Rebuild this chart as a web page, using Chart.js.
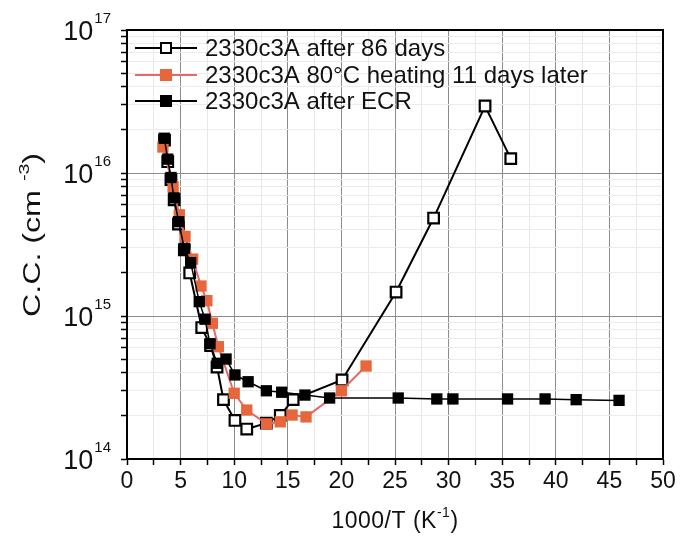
<!DOCTYPE html>
<html>
<head>
<meta charset="utf-8">
<script src="https://cdn.jsdelivr.net/npm/chart.js@4.4.1/dist/chart.umd.min.js"></script>
<style>
  html, body { margin: 0; padding: 0; background: #fff; }
  #wrap { width: 681px; height: 540px; }
</style>
</head>
<body>
<div id="wrap"><canvas id="ccChart" width="681" height="540"></canvas></div>
<script>
// --- C.C. vs 1000/T (log scale) ---
const FONT = '"Liberation Sans", Arial, sans-serif';

// series 1: after 86 days (open squares)
const days86X = [3.5, 3.8, 4.1, 4.4, 4.8, 5.35, 5.85, 6.97, 7.8, 8.4, 9.0, 10.07, 11.17, 13.0, 14.3, 15.5, 20.06, 25.1, 28.6, 33.4, 35.8];
const days86Y = [1.7e16, 1.2e16, 9.0e15, 6.5e15, 4.4e15, 2.9e15, 2.0e15, 8.3e14, 6.2e14, 4.4e14, 2.6e14, 1.86e14, 1.62e14, 1.78e14, 2.02e14, 2.6e14, 3.57e14, 1.47e15, 4.84e15, 2.94e16, 1.26e16];

// series 2: 80°C heating 11 days later (orange squares)
const heatX = [3.35, 4.3, 4.88, 5.41, 6.13, 6.9, 7.45, 7.96, 8.52, 10.0, 11.17, 13.03, 14.3, 15.4, 16.7, 20.0, 22.3];
const heatY = [1.52e16, 8.0e15, 5.1e15, 3.6e15, 2.5e15, 1.62e15, 1.28e15, 8.9e14, 6.1e14, 2.88e14, 2.2e14, 1.76e14, 1.82e14, 2.03e14, 1.97e14, 3.0e14, 4.47e14];

// series 3: after ECR (filled black squares)
const ecrX = [3.48, 3.8, 4.1, 4.38, 4.82, 5.35, 5.94, 6.74, 7.28, 7.74, 8.42, 9.24, 10.07, 11.3, 13.0, 14.43, 16.6, 18.9, 25.3, 28.9, 30.4, 35.5, 39.0, 41.9, 45.9];
const ecrY = [1.75e16, 1.25e16, 9.3e15, 6.7e15, 4.57e15, 2.97e15, 2.36e15, 1.26e15, 9.5e14, 6.4e14, 4.67e14, 5.0e14, 3.87e14, 3.47e14, 3.0e14, 2.93e14, 2.8e14, 2.67e14, 2.67e14, 2.63e14, 2.63e14, 2.63e14, 2.63e14, 2.6e14, 2.57e14];

const legendLabels = ['2330c3A after 86 days', '2330c3A 80\u00B0C heating 11 days later', '2330c3A after ECR'];
const yDecades = [14, 15, 16, 17];
const xTickStep = 2.5;

const ORANGE = '#e8663c';
const ORANGE_LINE = '#e46a6a';

const toPts = (xs, ys) => xs.map((x, i) => ({ x: x, y: ys[i] }));

// text with a superscript part: [main, sup, tail], centred on x
function supText(ctx, x, y, parts, size, supSize, spacing) {
    ctx.letterSpacing = spacing + 'px';
    ctx.font = size + 'px ' + FONT;
    const w1 = ctx.measureText(parts[0]).width;
    const w3 = ctx.measureText(parts[2]).width;
    ctx.font = supSize + 'px ' + FONT;
    const w2 = ctx.measureText(parts[1]).width;
    let x0 = x - (w1 + w2 + w3) / 2;
    ctx.textAlign = 'left';
    ctx.font = size + 'px ' + FONT;
    ctx.fillText(parts[0], x0, y);
    ctx.font = supSize + 'px ' + FONT;
    ctx.fillText(parts[1], x0 + w1, y - size * 0.4);
    ctx.font = size + 'px ' + FONT;
    ctx.fillText(parts[2], x0 + w1 + w2, y);
    ctx.letterSpacing = '0px';
}

// legend + axis labels with superscripts, plus top/right frame
const decorPlugin = {
    id: 'decor',
    afterDraw(chart) {
        const { ctx, chartArea: a, scales } = chart;
        ctx.save();

        // frame top/right
        ctx.strokeStyle = '#000';
        ctx.lineWidth = 2;
        ctx.beginPath();
        ctx.moveTo(a.left, a.top);
        ctx.lineTo(a.right, a.top);
        ctx.lineTo(a.right, a.bottom);
        ctx.stroke();

        // y decade labels 10^n
        ctx.fillStyle = '#111';
        ctx.textBaseline = 'middle';
        yDecades.forEach(p => {
            const y = scales.y.getPixelForValue(Math.pow(10, p));
            ctx.font = '15px ' + FONT;
            const supW = ctx.measureText(String(p)).width;
            ctx.textAlign = 'right';
            ctx.fillText(String(p), a.left - 16, y - 11);
            ctx.font = '27px ' + FONT;
            ctx.fillText('10', a.left - 17 - supW, y + 3);
        });

        // x title
        supText(ctx, (a.left + a.right) / 2, 522, ['1000/T (K', '-1', ')'], 23, 14, 0.5);

        // y title (rotated, stretched along its length like the source)
        ctx.save();
        ctx.translate(34, 235);
        ctx.rotate(-Math.PI / 2);
        ctx.scale(1.4, 1);
        supText(ctx, 0, 0, ['C.C. (cm ', '-3', ')'], 23, 14, 0);
        ctx.restore();

        // legend
        const rows = [48, 75, 101];
        const lx0 = 135, lx1 = 197, mx = 166;
        rows.forEach((ry, i) => {
            ctx.lineWidth = 2;
            ctx.strokeStyle = i === 1 ? ORANGE_LINE : '#000';
            ctx.beginPath();
            ctx.moveTo(lx0, ry);
            ctx.lineTo(lx1, ry);
            ctx.stroke();
            if (i === 0) {
                ctx.fillStyle = '#fff';
                ctx.fillRect(mx - 5, ry - 5, 10, 10);
                ctx.lineWidth = 2;
                ctx.strokeStyle = '#000';
                ctx.strokeRect(mx - 5, ry - 5, 10, 10);
            } else {
                ctx.fillStyle = i === 1 ? ORANGE : '#000';
                ctx.fillRect(mx - 6, ry - 6, 12, 12);
            }
            ctx.fillStyle = '#111';
            ctx.font = '24px ' + FONT;
            ctx.textAlign = 'left';
            ctx.fillText(legendLabels[i], 205, ry + 1);
        });

        ctx.restore();
    }
};

const ctx = document.getElementById('ccChart').getContext('2d');
const ccChart = new Chart(ctx, {
    type: 'scatter',
    data: {
        datasets: [
            {
                label: legendLabels[0],
                data: toPts(days86X, days86Y),
                showLine: true,
                borderColor: '#000',
                borderWidth: 2,
                pointStyle: 'rect',
                pointRadius: 7.5,
                pointBorderWidth: 2.2,
                pointBackgroundColor: '#fff',
                pointBorderColor: '#000',
                order: 3
            },
            {
                label: legendLabels[1],
                data: toPts(heatX, heatY),
                showLine: true,
                borderColor: ORANGE_LINE,
                borderWidth: 2,
                pointStyle: 'rect',
                pointRadius: 8,
                pointBorderWidth: 0,
                pointBackgroundColor: ORANGE,
                pointBorderColor: ORANGE,
                order: 2
            },
            {
                label: legendLabels[2],
                data: toPts(ecrX, ecrY),
                showLine: true,
                borderColor: '#000',
                borderWidth: 1.5,
                pointStyle: 'rect',
                pointRadius: 8,
                pointBorderWidth: 0,
                pointBackgroundColor: '#000',
                pointBorderColor: '#000',
                order: 1
            }
        ]
    },
    options: {
        responsive: false,
        animation: false,
        layout: { padding: { left: 0, right: 18, top: 30, bottom: 0 } },
        plugins: {
            legend: { display: false },
            tooltip: { enabled: false }
        },
        scales: {
            x: {
                type: 'linear',
                min: 0,
                max: 50,
                afterFit: (s) => { s.height = 81; },
                afterBuildTicks: (s) => {
                    const t = [];
                    for (let v = 0; v <= 50; v += xTickStep) t.push({ value: v });
                    s.ticks = t;
                },
                border: { color: '#000', width: 2 },
                grid: {
                    color: (c) => (c.tick && c.tick.value % 5 === 0) ? '#8c8c8c' : '#e8e8e8',
                    lineWidth: 1,
                    tickLength: 6,
                    tickColor: '#000',
                    tickWidth: 1.5
                },
                ticks: {
                    autoSkip: false,
                    maxRotation: 0,
                    padding: 3,
                    color: '#111',
                    font: { family: FONT, size: 23 },
                    callback: (v) => (v % 5 === 0) ? String(v) : ''
                }
            },
            y: {
                type: 'logarithmic',
                min: 1e14,
                max: 1e17,
                afterFit: (s) => { s.width = 127; },
                afterBuildTicks: (s) => {
                    const t = [];
                    yDecades.forEach(p => {
                        const base = Math.pow(10, p);
                        if (p === 17) { t.push({ value: base }); return; }
                        for (let m = 1; m <= 9; m++) t.push({ value: m * base });
                    });
                    s.ticks = t;
                },
                border: { color: '#000', width: 2 },
                grid: {
                    color: (c) => {
                        if (!c.tick) return '#e8e8e8';
                        const l = Math.log10(c.tick.value);
                        return Math.abs(l - Math.round(l)) < 1e-6 ? '#8c8c8c' : '#ececec';
                    },
                    lineWidth: 1,
                    tickLength: 6,
                    tickColor: '#000',
                    tickWidth: 1.5
                },
                ticks: { display: false }
            }
        }
    },
    plugins: [decorPlugin]
});
</script>
</body>
</html>
